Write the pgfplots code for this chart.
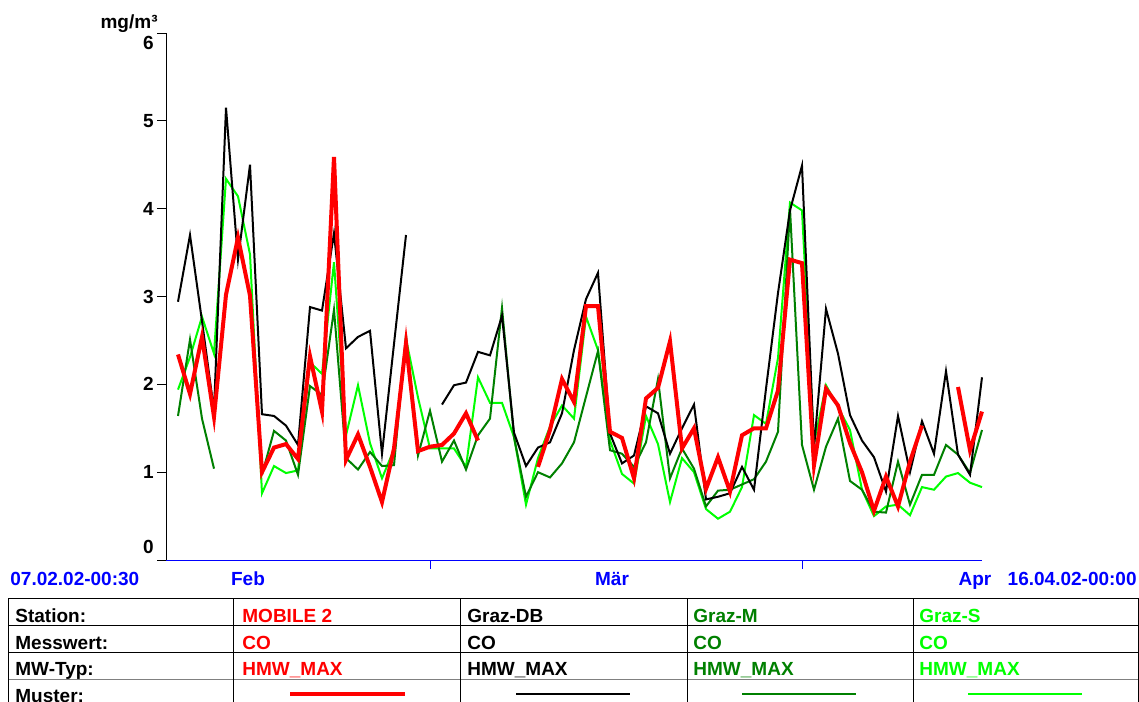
\documentclass[border=0pt]{standalone}
\usepackage{pgfplots}
\pgfplotsset{compat=1.18}
\usepackage{pgfplotstable}
\usepackage{fontspec}
\setmainfont{Liberation Sans}
\definecolor{dkgreen}{RGB}{0,128,0}
\definecolor{ltgreen}{RGB}{0,255,0}
\definecolor{myblue}{RGB}{0,0,255}
\definecolor{myred}{RGB}{255,0,0}
\pgfplotstableread{
k red black dg lg
1 2.34 2.94 1.64 1.94
2 1.89 3.70 2.51 2.31
3 2.54 2.72 1.61 2.77
4 1.63 1.70 1.04 2.35
5 3.02 5.15 nan 4.34
6 3.67 3.42 nan 4.14
7 3.01 4.50 nan 3.48
8 1.00 1.66 0.97 0.76
9 1.28 1.64 1.47 1.07
10 1.32 1.53 1.36 0.99
11 1.15 1.31 0.97 1.02
12 2.32 2.88 1.98 2.25
13 1.69 2.84 1.88 2.12
14 4.59 3.72 2.85 3.39
15 1.14 2.41 1.16 1.42
16 1.43 2.54 1.03 1.99
17 1.06 2.61 1.23 1.33
18 0.66 1.21 1.07 0.93
19 1.27 2.46 1.08 1.26
20 2.47 3.70 2.56 2.52
21 1.24 nan 1.19 1.85
22 1.29 nan 1.70 1.27
23 1.31 1.77 1.12 1.27
24 1.44 1.99 1.36 1.27
25 1.67 2.02 1.03 1.06
26 1.36 2.37 1.42 2.08
27 nan 2.33 1.61 1.79
28 nan 2.78 2.87 1.79
29 nan 1.45 1.40 1.40
30 nan 1.07 0.72 0.63
31 1.06 1.28 1.00 1.16
32 1.48 1.34 0.94 1.52
33 2.06 1.67 1.10 1.76
34 1.80 2.39 1.34 1.61
35 2.89 2.97 1.86 2.77
36 2.89 3.27 2.38 2.39
37 1.46 1.44 1.25 1.36
38 1.39 1.10 1.21 0.98
39 0.93 1.19 1.06 0.87
40 1.84 1.75 1.34 1.64
41 1.96 1.67 2.06 1.32
42 2.49 1.21 0.93 0.66
43 1.27 1.50 1.27 1.16
44 1.50 1.77 1.04 1.00
45 0.81 0.69 0.61 0.58
46 1.17 0.72 0.79 0.47
47 0.78 0.76 0.80 0.55
48 1.42 1.06 0.86 0.83
49 1.50 0.80 0.92 1.65
50 1.50 1.95 1.12 1.55
51 1.93 3.04 1.46 2.30
52 3.42 3.98 4.00 4.07
53 3.38 4.49 1.31 3.98
54 1.08 1.28 0.80 1.33
55 1.95 2.86 1.29 1.99
56 1.76 2.35 1.61 1.74
57 1.33 1.65 0.90 1.48
58 1.00 1.36 0.80 0.80
59 0.56 1.17 0.55 0.50
60 0.95 0.78 0.54 0.61
61 0.61 1.64 1.12 0.63
62 1.12 1.00 0.63 0.51
63 1.53 1.58 0.97 0.83
64 nan 1.21 0.97 0.80
65 nan 2.15 1.31 0.95
66 1.97 1.20 1.20 0.99
67 1.25 0.97 0.99 0.88
68 1.69 2.08 1.48 0.83
}\data

\begin{document}
\begin{tikzpicture}
\useasboundingbox (0,0) rectangle (569.5pt,-350.5pt);
\begin{axis}[
  at={(83pt,-280pt)}, anchor=south west,
  width=408pt, height=263.5pt, scale only axis,
  xmin=0, xmax=68, ymin=0, ymax=6,
  axis x line=bottom, axis y line=left,
  axis line style={-, line width=0.5pt},
  x axis line style={myblue},
  y axis line style={black},
  xtick={22,53}, xticklabels={},
  x tick style={myblue, line width=0.5pt},
  ytick={0,...,6}, yticklabels={,1,2,3,4,5,},
  y tick style={black, line width=0.5pt},
  tick align=outside,
  major tick length=4.5pt,
  yticklabel style={font=\fontsize{9.5}{11}\selectfont\bfseries, inner sep=0pt, xshift=-1.5pt},
  unbounded coords=jump,
  clip=false,
]
\addplot[ltgreen, line width=1pt] table[x=k, y=lg] {\data};
\addplot[dkgreen, line width=1pt] table[x=k, y=dg] {\data};
\addplot[black, line width=1pt] table[x=k, y=black] {\data};
\addplot[myred, line width=2pt] table[x=k, y=red] {\data};
\end{axis}
\begin{scope}[x=0.5pt,y=-0.5pt, font=\fontsize{9.5}{11}\selectfont\bfseries]
\node[anchor=base east, inner sep=0] at (158,29) {mg/m³};
\node[anchor=base east, inner sep=0] at (154,50) {6};
\node[anchor=base east, inner sep=0] at (154,553) {0};
\node[anchor=base west, inner sep=0, text=myblue] at (10,585) {07.02.02-00:30};
\node[anchor=base, inner sep=0, text=myblue] at (248,585) {Feb};
\node[anchor=base, inner sep=0, text=myblue] at (612,585) {Mär};
\node[anchor=base, inner sep=0, text=myblue] at (975,585) {Apr};
\node[anchor=base east, inner sep=0, text=myblue] at (1137,585) {16.04.02-00:00};
% table
\draw[line width=0.5pt] (8,598) -- (1138,598) (8,625) -- (1138,625) (8,652) -- (1138,652);
\draw[line width=0.5pt, gray] (8,679) -- (1138,679);
\foreach \xx in {8,233,460,687,913,1138} {
  \draw[line width=0.5pt] (\xx,598) -- (\xx,715);
}
\foreach \yy/\tt in {622/Station:,649/Messwert:,675/MW-Typ:,702/Muster:} {
  \node[anchor=base west, inner sep=0] at (15,\yy) {\tt};
}
\node[anchor=base west, inner sep=0, text=myred] at (242,622) {MOBILE 2};
\node[anchor=base west, inner sep=0, text=myred] at (242,649) {CO};
\node[anchor=base west, inner sep=0, text=myred] at (242,675) {HMW\_MAX};
\node[anchor=base west, inner sep=0] at (467,622) {Graz-DB};
\node[anchor=base west, inner sep=0] at (467,649) {CO};
\node[anchor=base west, inner sep=0] at (467,675) {HMW\_MAX};
\node[anchor=base west, inner sep=0, text=dkgreen] at (693,622) {Graz-M};
\node[anchor=base west, inner sep=0, text=dkgreen] at (693,649) {CO};
\node[anchor=base west, inner sep=0, text=dkgreen] at (693,675) {HMW\_MAX};
\node[anchor=base west, inner sep=0, text=ltgreen] at (919,622) {Graz-S};
\node[anchor=base west, inner sep=0, text=ltgreen] at (919,649) {CO};
\node[anchor=base west, inner sep=0, text=ltgreen] at (919,675) {HMW\_MAX};
\draw[myred, line width=2pt] (290,694) -- (405,694);
\draw[black, line width=1pt] (516,694) -- (630,694);
\draw[dkgreen, line width=1pt] (742,694) -- (856,694);
\draw[ltgreen, line width=1pt] (968,694) -- (1082,694);
\end{scope}
\end{tikzpicture}
\end{document}
